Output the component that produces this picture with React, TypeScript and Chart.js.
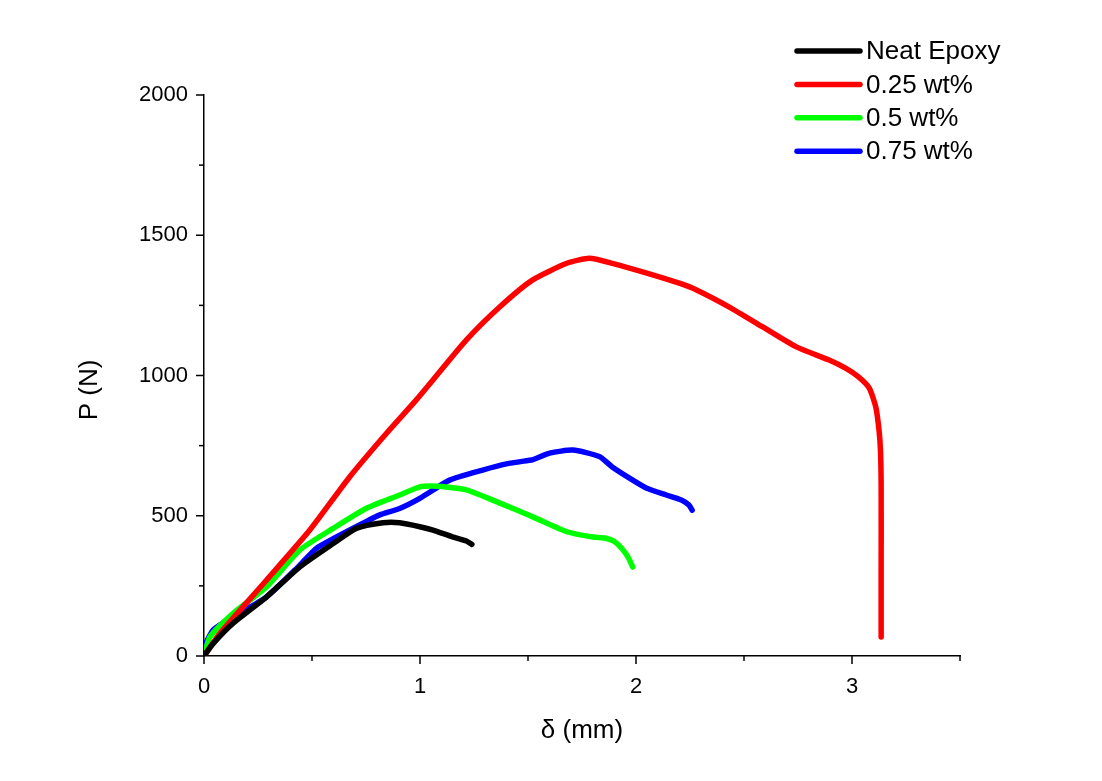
import React, { useEffect, useRef } from "react";
import { Chart, registerables } from "chart.js";

Chart.register(...registerables);

const seriesNames = ["Neat Epoxy", "0.25 wt%", "0.5 wt%", "0.75 wt%"];
const seriesColors = ["#000000", "#ff0000", "#00ff00", "#0000ff"];

const neatX = [0, 0.043, 0.135, 0.29, 0.444, 0.6, 0.705, 0.829, 0.906, 0.999, 1.06, 1.15, 1.215, 1.24];
const neatY = [0, 45, 117, 211, 318, 402, 455, 475, 475, 461, 449, 425, 410, 398];

const redX = [0, 0.074, 0.29, 0.49, 0.675, 0.845, 0.983, 1.06, 1.215, 1.37, 1.52, 1.68, 1.785, 1.89, 2.05, 2.2, 2.28, 2.43, 2.585, 2.74, 2.894, 2.97, 3.03, 3.08, 3.11, 3.125, 3.132, 3.135, 3.135, 3.135];
const redY = [0, 81, 271, 449, 639, 794, 913, 984, 1127, 1245, 1340, 1400, 1418, 1400, 1365, 1329, 1305, 1245, 1174, 1103, 1055, 1026, 995, 955, 888, 806, 730, 600, 300, 68];

const greenX = [0, 0.028, 0.135, 0.29, 0.444, 0.6, 0.75, 0.906, 0.999, 1.05, 1.1, 1.215, 1.37, 1.52, 1.68, 1.8, 1.86, 1.9, 1.94, 1.965, 1.985];
const greenY = [0, 69, 152, 247, 378, 456, 526, 574, 603, 606, 604, 592, 545, 497, 443, 424, 420, 408, 378, 350, 317];

const blueX = [0, 0.043, 0.135, 0.29, 0.444, 0.52, 0.6, 0.75, 0.814, 0.906, 0.999, 1.137, 1.29, 1.4, 1.5, 1.52, 1.6, 1.707, 1.83, 1.89, 1.985, 2.05, 2.14, 2.21, 2.245, 2.26];
const blueY = [33, 93, 140, 211, 324, 384, 419, 479, 503, 526, 562, 627, 663, 685, 697, 699, 723, 734, 711, 674, 627, 598, 574, 556, 538, 520];

const xTickLabels = ["0", "1", "2", "3"];
const yTickLabels = ["0", "500", "1000", "1500", "2000"];
const xTitle = "δ (mm)";
const yTitle = "P (N)";

const seriesX = [neatX, redX, greenX, blueX];
const seriesY = [neatY, redY, greenY, blueY];

const FONT = "Arial, 'Liberation Sans', sans-serif";

const ticksAndLegend = {
  id: "ticksAndLegend",
  afterDraw(chart: any) {
    const ctx = chart.ctx;
    const xs = chart.scales.x;
    const ys = chart.scales.y;
    ctx.save();
    ctx.strokeStyle = "#000";
    ctx.lineWidth = 1.5;
    for (let v = 0; v <= 3.5001; v += 0.5) {
      const px = xs.getPixelForValue(v);
      const major = Math.abs(v - Math.round(v)) < 1e-6;
      ctx.beginPath();
      ctx.moveTo(px, ys.bottom);
      ctx.lineTo(px, ys.bottom + (major ? 8 : 5));
      ctx.stroke();
    }
    for (let v = 0; v <= 2000.1; v += 250) {
      const py = ys.getPixelForValue(v);
      const major = v % 500 === 0;
      ctx.beginPath();
      ctx.moveTo(xs.left, py);
      ctx.lineTo(xs.left - (major ? 8 : 5), py);
      ctx.stroke();
    }
    // y-axis title
    ctx.save();
    ctx.translate(90, 390);
    ctx.rotate(-Math.PI / 2);
    ctx.font = "26px " + FONT;
    ctx.fillStyle = "#000";
    ctx.textAlign = "center";
    ctx.textBaseline = "middle";
    ctx.fillText(yTitle, 0, 0);
    ctx.restore();
    // legend
    const lx0 = 797, lx1 = 860, ly0 = 51, dy = 33.4;
    ctx.font = "26px " + FONT;
    ctx.textBaseline = "middle";
    ctx.textAlign = "left";
    seriesNames.forEach((name, i) => {
      const y = ly0 + i * dy;
      ctx.strokeStyle = seriesColors[i];
      ctx.lineWidth = 5.5;
      ctx.lineCap = "round";
      ctx.beginPath();
      ctx.moveTo(lx0, y);
      ctx.lineTo(lx1, y);
      ctx.stroke();
      ctx.fillStyle = "#000";
      ctx.fillText(name, 866, y + 1);
    });
    ctx.restore();
  },
};

export default function App() {
  const ref = useRef<HTMLCanvasElement | null>(null);
  useEffect(() => {
    document.body.style.margin = "0";
    const canvas = ref.current;
    if (!canvas) return;
    const datasets = seriesNames.map((name, i) => ({
      label: name,
      data: seriesX[i].map((x, j) => ({ x, y: seriesY[i][j] })),
      borderColor: seriesColors[i],
      backgroundColor: seriesColors[i],
      borderWidth: 5.5,
      borderCapStyle: "round" as const,
      borderJoinStyle: "round" as const,
      pointRadius: 0,
      showLine: true,
      tension: 0.2,
      fill: false,
    }));
    const chart = new Chart(canvas, {
      type: "scatter",
      data: { datasets },
      options: {
        animation: false,
        responsive: false,
        layout: { padding: { left: 0, top: 95, right: 142, bottom: 0 } },
        plugins: { legend: { display: false }, tooltip: { enabled: false } },
        scales: {
          x: {
            type: "linear",
            min: 0,
            max: 3.5,
            afterFit: (s: any) => { s.height = 125; },
            grid: { display: false, drawTicks: false },
            border: { display: true, color: "#000", width: 1.5 },
            ticks: {
              stepSize: 0.5,
              padding: 18,
              color: "#000",
              maxRotation: 0,
              autoSkip: false,
              font: { size: 22, family: FONT },
              callback: (v: any) => {
                const n = Number(v);
                return Math.abs(n - Math.round(n)) < 1e-6 && Math.round(n) < xTickLabels.length ? xTickLabels[Math.round(n)] : "";
              },
            },
            title: {
              display: true,
              text: xTitle,
              color: "#000",
              font: { size: 26, family: FONT },
              padding: { top: 0, bottom: 35 },
            },
          },
          y: {
            type: "linear",
            min: 0,
            max: 2000,
            afterFit: (s: any) => { s.width = 204; },
            grid: { display: false, drawTicks: false },
            border: { display: true, color: "#000", width: 1.5 },
            ticks: {
              stepSize: 500,
              padding: 16,
              color: "#000",
              autoSkip: false,
              font: { size: 22, family: FONT },
              callback: (v: any) => {
                const idx = Math.round(Number(v) / 500);
                return yTickLabels[idx] ?? "";
              },
            },
            title: { display: false },
          },
        },
      },
      plugins: [ticksAndLegend],
    });
    return () => chart.destroy();
  }, []);
  return (
    <div style={{ width: 1102, height: 781, background: "#fff" }}>
      <canvas ref={ref} width={1102} height={781} style={{ display: "block" }} />
    </div>
  );
}
